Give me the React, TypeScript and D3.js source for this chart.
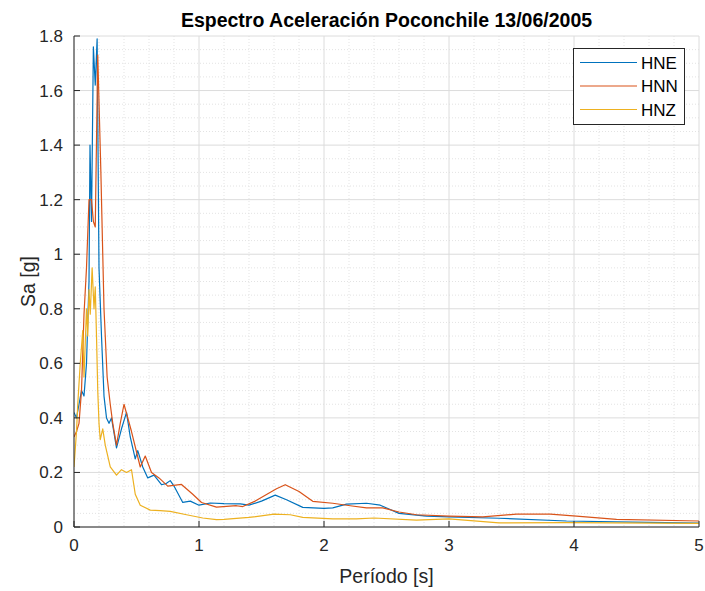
import React from "react";
import * as d3 from "d3";

const periodHNE = [0, 0.02, 0.04, 0.06, 0.08, 0.1, 0.12, 0.128, 0.14, 0.155, 0.17, 0.185, 0.2, 0.22, 0.24, 0.26, 0.28, 0.3, 0.34, 0.38, 0.42, 0.45, 0.49, 0.51, 0.55, 0.59, 0.64, 0.7, 0.74, 0.77, 0.8, 0.87, 0.93, 1.0, 1.09, 1.2, 1.33, 1.4, 1.5, 1.61, 1.7, 1.83, 2.0, 2.07, 2.18, 2.34, 2.45, 2.6, 2.82, 3.0, 3.4, 3.94, 4.47, 5.0];
const saHNE = [0.42, 0.4, 0.45, 0.5, 0.48, 0.6, 0.9, 1.4, 1.12, 1.76, 1.62, 1.79, 0.95, 0.7, 0.48, 0.4, 0.38, 0.4, 0.29, 0.36, 0.42, 0.33, 0.25, 0.28, 0.22, 0.18, 0.19, 0.155, 0.16, 0.17, 0.15, 0.09, 0.095, 0.08, 0.088, 0.086, 0.085, 0.08, 0.095, 0.117, 0.1, 0.072, 0.068, 0.07, 0.084, 0.087, 0.08, 0.05, 0.04, 0.037, 0.032, 0.022, 0.018, 0.014];

const periodHNN = [0, 0.02, 0.04, 0.06, 0.08, 0.1, 0.12, 0.14, 0.155, 0.17, 0.19, 0.215, 0.24, 0.265, 0.29, 0.31, 0.34, 0.37, 0.4, 0.46, 0.53, 0.57, 0.62, 0.68, 0.75, 0.86, 0.95, 1.02, 1.14, 1.3, 1.35, 1.45, 1.62, 1.69, 1.8, 1.91, 2.07, 2.21, 2.34, 2.47, 2.6, 2.74, 3.0, 3.27, 3.54, 3.81, 4.02, 4.34, 5.0];
const saHNN = [0.33, 0.35, 0.38, 0.5, 0.78, 0.95, 1.2, 1.2, 1.12, 1.1, 1.73, 1.3, 0.8, 0.55, 0.45, 0.38, 0.3, 0.38, 0.45, 0.35, 0.22, 0.26, 0.2, 0.18, 0.15, 0.156, 0.12, 0.09, 0.073, 0.078, 0.075, 0.095, 0.14, 0.155, 0.13, 0.094, 0.087, 0.078, 0.07, 0.07, 0.055, 0.045, 0.04, 0.037, 0.047, 0.047, 0.04, 0.028, 0.022];

const periodHNZ = [0, 0.02, 0.03, 0.05, 0.07, 0.08, 0.1, 0.11, 0.12, 0.13, 0.145, 0.16, 0.17, 0.18, 0.19, 0.2, 0.21, 0.23, 0.25, 0.29, 0.34, 0.38, 0.42, 0.46, 0.49, 0.53, 0.61, 0.69, 0.77, 0.9, 1.03, 1.14, 1.2, 1.4, 1.6, 1.73, 1.83, 2.07, 2.26, 2.4, 2.74, 3.0, 3.4, 3.94, 5.0];
const saHNZ = [0.22, 0.35, 0.45, 0.6, 0.72, 0.55, 0.8, 0.7, 0.87, 0.78, 0.95, 0.8, 0.88, 0.7, 0.5, 0.38, 0.32, 0.36, 0.3, 0.22, 0.19, 0.21, 0.2, 0.21, 0.12, 0.08, 0.062, 0.06, 0.057, 0.045, 0.033, 0.027, 0.028, 0.035, 0.047, 0.045, 0.035, 0.03, 0.03, 0.033, 0.025, 0.03, 0.015, 0.016, 0.013];

const seriesNames = ["HNE", "HNN", "HNZ"];
const seriesColors = ["#0072BD", "#D95319", "#EDB120"];
const xTicks = [0, 1, 2, 3, 4, 5];
const yTicks = [0, 0.2, 0.4, 0.6, 0.8, 1, 1.2, 1.4, 1.6, 1.8];

const W = 705;
const H = 591;
const left = 74;
const right = 699;
const top = 36;
const bottom = 527;
const FONT = "'Liberation Sans', Arial, Helvetica, sans-serif";

export default function App() {
  const x = d3.scaleLinear().domain([0, 5]).range([left, right]);
  const y = d3.scaleLinear().domain([0, 1.8]).range([bottom, top]);
  const line = d3
    .line<[number, number]>()
    .x((d) => x(d[0]))
    .y((d) => y(d[1]));

  const series = [
    periodHNE.map((t, i) => [t, saHNE[i]] as [number, number]),
    periodHNN.map((t, i) => [t, saHNN[i]] as [number, number]),
    periodHNZ.map((t, i) => [t, saHNZ[i]] as [number, number]),
  ];

  const minorX = d3.range(0, 5.0001, 0.2).filter((v) => Math.abs(v - Math.round(v)) > 1e-6);
  const minorY = d3.range(0, 1.8001, 0.05).filter((v) => Math.abs(v * 5 - Math.round(v * 5)) > 1e-6);

  const axisColor = "#262626";

  return (
    <svg
      width={W}
      height={H}
      style={{ position: "absolute", left: 0, top: 0, background: "#ffffff" }}
      fontFamily={FONT}
    >
      <rect x={0} y={0} width={W} height={H} fill="#ffffff" />
      {/* minor grid */}
      <g stroke="#e3e3e3" strokeWidth={1} strokeDasharray="1,2">
        {minorX.map((v) => (
          <line key={"mx" + v} x1={x(v)} x2={x(v)} y1={top} y2={bottom} />
        ))}
        {minorY.map((v) => (
          <line key={"my" + v} x1={left} x2={right} y1={y(v)} y2={y(v)} />
        ))}
      </g>
      {/* major grid */}
      <g stroke="#dcdcdc" strokeWidth={1}>
        {xTicks.map((v) => (
          <line key={"gx" + v} x1={x(v)} x2={x(v)} y1={top} y2={bottom} />
        ))}
        {yTicks.map((v) => (
          <line key={"gy" + v} x1={left} x2={right} y1={y(v)} y2={y(v)} />
        ))}
      </g>
      {/* data */}
      <g clipPath="url(#clip)" fill="none" strokeWidth={1.2} strokeLinejoin="round">
        {series.map((s, i) => (
          <path key={seriesNames[i]} d={line(s) || ""} stroke={seriesColors[i]} />
        ))}
      </g>
      {/* axes */}
      <g stroke={axisColor} strokeWidth={1}>
        <line x1={left} x2={left} y1={top} y2={bottom} />
        <line x1={left} x2={right} y1={bottom} y2={bottom} />
        {xTicks.map((v) => (
          <line key={"tx" + v} x1={x(v)} x2={x(v)} y1={bottom} y2={bottom - 6} />
        ))}
        {yTicks.map((v) => (
          <line key={"ty" + v} x1={left} x2={left + 6} y1={y(v)} y2={y(v)} />
        ))}
      </g>
      <g fill={axisColor} fontSize={17}>
        {xTicks.map((v) => (
          <text key={"lx" + v} x={x(v)} y={bottom + 24} textAnchor="middle">
            {String(v)}
          </text>
        ))}
        {yTicks.map((v) => (
          <text key={"ly" + v} x={left - 11} y={y(v) + 6} textAnchor="end">
            {String(v)}
          </text>
        ))}
      </g>
      <text x={(left + right) / 2} y={583} textAnchor="middle" fontSize={19.5} fill={axisColor}>
        Período [s]
      </text>
      <text
        transform={`translate(35,${(top + bottom) / 2}) rotate(-90)`}
        textAnchor="middle"
        fontSize={19.5}
        fill={axisColor}
      >
        Sa [g]
      </text>
      <text
        x={(left + right) / 2}
        y={27}
        textAnchor="middle"
        fontSize={19.5}
        fontWeight="bold"
        fill="#000000"
      >
        Espectro Aceleración Poconchile 13/06/2005
      </text>
      {/* legend */}
      <g>
        <rect x={573.5} y={48.5} width={111} height={76} fill="#ffffff" stroke={axisColor} strokeWidth={1} />
        {seriesNames.map((n, i) => (
          <g key={"lg" + n}>
            <line x1={580} x2={637} y1={62.5 + i * 23.5} y2={62.5 + i * 23.5} stroke={seriesColors[i]} strokeWidth={1.2} />
            <text x={641} y={68.5 + i * 23.5} fontSize={17} fill="#000000">
              {n}
            </text>
          </g>
        ))}
      </g>
      <defs>
        <clipPath id="clip">
          <rect x={left} y={top - 2} width={right - left} height={bottom - top + 2} />
        </clipPath>
      </defs>
    </svg>
  );
}
